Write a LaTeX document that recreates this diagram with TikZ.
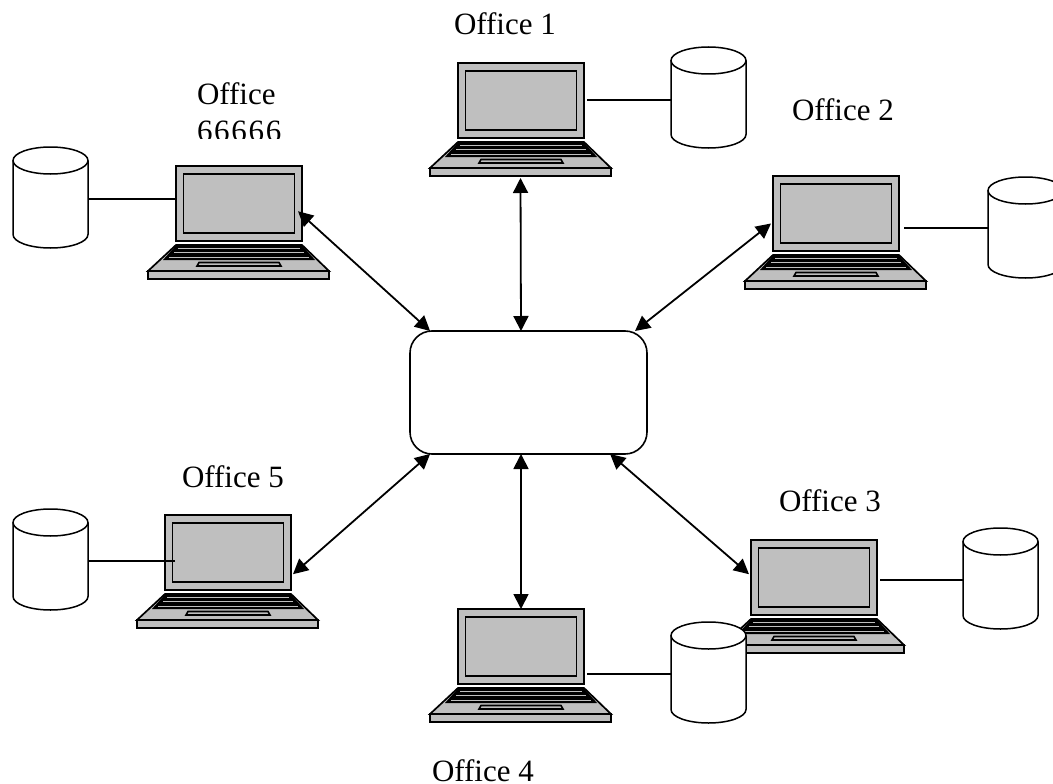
\documentclass[tikz,border=0pt]{standalone}
\usepackage{fontspec}
\setmainfont{Liberation Serif}
\newfontfamily\digitwide[LetterSpace=5.5]{Liberation Serif}
\usetikzlibrary{arrows.meta}
\definecolor{lapgray}{gray}{0.75}
\tikzset{
  x=1pt,y=-1pt,
  ink/.style={draw=black,line width=1.5pt,line join=miter},
  lap/.style={draw=black,line width=1.7pt,line join=miter,fill=lapgray},
  screenbox/.style={lap,rectangle,minimum width=126pt,minimum height=75pt,inner sep=0pt,outer sep=0pt},
  wholebox/.style={rectangle,minimum width=181pt,minimum height=113pt,inner sep=0pt,outer sep=0pt},
  hubbox/.style={draw=black,line width=1.6pt,fill=white,rectangle,rounded corners=22pt,minimum width=237pt,minimum height=123pt,inner sep=0pt,outer sep=0pt},
  drumbox/.style={rectangle,minimum width=75pt,minimum height=101pt,inner sep=0pt,outer sep=0pt},
  link/.style={draw=black,line width=1.7pt},
  duplex/.style={draw=black,line width=1.8pt,{Triangle[length=15pt,width=15pt]}-{Triangle[length=15pt,width=15pt]}},
  officelabel/.style={font=\fontsize{31}{34}\selectfont,anchor=base west,inner sep=0pt,outer sep=0pt},
  laptop/.pic={
    \node[wholebox,anchor=north west] (whole) at (-28,0) {};
    \node[screenbox,anchor=north west] (scr) at (0,0) {};
    \draw[lap] (7.5,8) rectangle (118.5,67);
    \draw[lap] (0,79) -- (126,79) -- (153,105) -- (-28,105) -- cycle;
    \draw[lap] (-28,105) rectangle (153,113);
    \fill[black] (0,79.5) -- (126,79.5) -- (139,94) -- (-13,94) -- cycle;
    \draw[lapgray,line width=1.1pt] (2,82.3) -- (124,82.3);
    \draw[lapgray,line width=1.1pt] (-2,86.8) -- (128,86.8);
    \draw[lapgray,line width=1.1pt] (-7,91.3) -- (133,91.3);
    \draw[lap,line width=1.6pt] (23,96.5) -- (103,96.5) -- (105,100) -- (21,100) -- cycle;
  },
  drum/.pic={
    \node[drumbox,anchor=north west] (body) at (0,0) {};
    \draw[ink,fill=white] (0,13.5) -- (0,87.5) arc[start angle=180,end angle=360,x radius=37.5pt,y radius=13.5pt] -- (75,13.5);
    \draw[ink,fill=white] (37.5,13.5) ellipse[x radius=37.5pt,y radius=13.5pt];
  }
}
\begin{document}
\begin{tikzpicture}
\clip (0,0) rectangle (1053,784);
\fill[white] (0,0) rectangle (1053,784);
\pic (la) at (458,63) {laptop};
\pic (lb) at (773,176) {laptop};
\pic (lc) at (751,540) {laptop};
\pic (ld) at (458,609) {laptop};
\pic (le) at (165,515) {laptop};
\pic (lf) at (176,166) {laptop};
\pic (da) at (671,47) {drum};
\pic (db) at (988,177) {drum};
\pic (dc) at (963,528) {drum};
\pic (dd) at (671,622) {drum};
\pic (de) at (13,509) {drum};
\pic (df) at (13,147) {drum};
\node[hubbox] (hub) at (528.5,392.5) {};
% data links
\draw[link] ([xshift=3pt,yshift=0.5pt]lascr.east) -- ([yshift=0.5pt]dabody.west |- lascr.east);
\draw[link] ([xshift=5pt,yshift=-14.5pt]lbscr.east) -- ([yshift=-14.5pt]dbbody.west |- lbscr.east);
\draw[link] ([xshift=3pt,yshift=-2.5pt]lcscr.east) -- ([yshift=-2.5pt]dcbody.west |- lcscr.east);
\draw[link] ([xshift=3pt,yshift=-27.5pt]ldscr.east) -- ([yshift=-27.5pt]ddbody.west |- ldscr.east);
\draw[link] ([xshift=10pt,yshift=-8.5pt]lescr.west) -- ([yshift=-8.5pt]debody.east |- lescr.west);
\draw[link] ([yshift=4.5pt]lfscr.west) -- ([yshift=4.5pt]dfbody.east |- lfscr.west);
% hub links
\draw[duplex] ([xshift=-7.5pt]hub.north) -- ([yshift=-2pt]lawhole.south);
\draw[duplex] (hub.30.2) -- ([xshift=-2pt]lbscr.189);
\draw[duplex] (hub.323.6) -- ([xshift=-2pt]lcscr.177);
\draw[duplex] ([xshift=-7.5pt]hub.south) -- (ldscr.north);
\draw[duplex] (hub.212.8) -- ([xshift=2pt]lescr.-19);
\draw[duplex] (hub.148) -- ([xshift=-4pt]lfscr.-7.7);
% labels
\node[officelabel] (ta) at (454,35) {Office 1};
\node[officelabel] (tb) at (792,121) {Office 2};
\node[officelabel] (tc) at (779,511) {Office 3};
\node[officelabel] (td) at (432,781) {Office 4};
\node[officelabel] (te) at (182,487) {Office 5};
\node[officelabel] (tf) at (197,105) {Office};
\begin{scope}
\clip (180,112) rectangle (300,138);
\node[officelabel] (tg) at (197,141) {\digitwide 66666};
\end{scope}
\end{tikzpicture}
\end{document}
